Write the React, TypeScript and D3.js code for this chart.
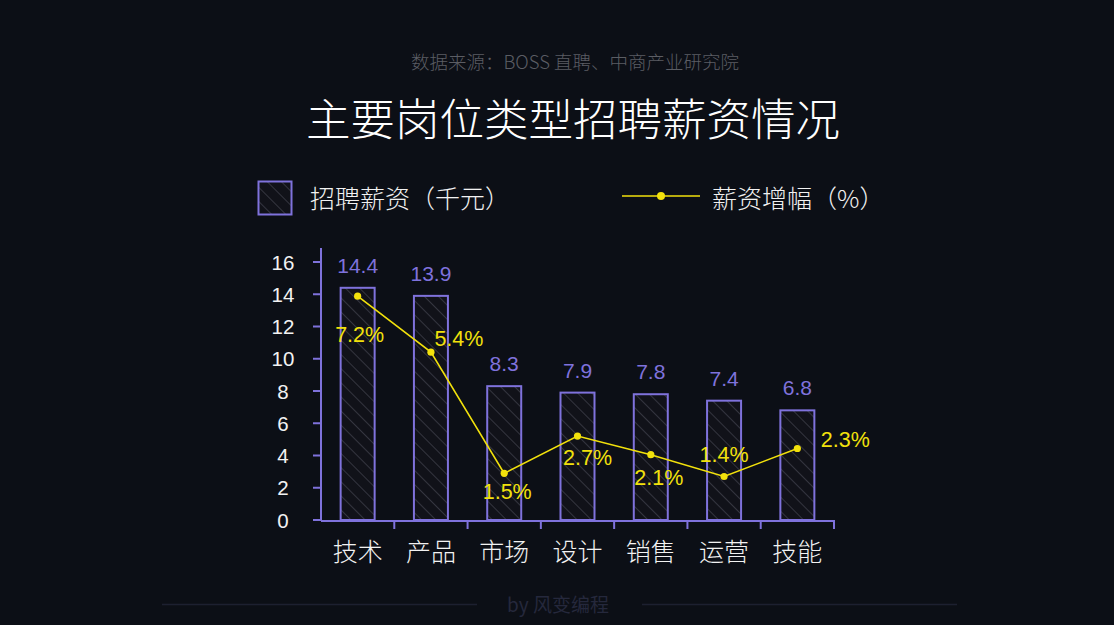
import React from 'react';
import * as d3 from 'd3';

// data
const categories = ['技术', '产品', '市场', '设计', '销售', '运营', '技能'];
const salary = [14.4, 13.9, 8.3, 7.9, 7.8, 7.4, 6.8]; // 千元
const growth = [7.2, 5.4, 1.5, 2.7, 2.1, 1.4, 2.3]; // %
const yTicks = [0, 2, 4, 6, 8, 10, 12, 14, 16];

// where each % label sits relative to its point
const growthLabelOffset: [number, number][] = [
  [2, 46], [28, -6], [3, 26], [10, 29], [8, 30], [0, -14], [48, -2],
];

const W = 1114;
const H = 625;
const BG = '#0c0f16';
const PURPLE = '#7f72dc';
const YELLOW = '#f2e10c';
const FONT = '"Noto Sans CJK SC", "Noto Sans", sans-serif';
const NUM_FONT = '"Liberation Sans", Arial, sans-serif';

const App: React.FC = () => {
  const left = 321;
  const right = 834;
  const base = 520;
  const top = 262;

  const x = d3.scaleBand<string>().domain(categories).range([left, right]);
  const y = d3.scaleLinear().domain([0, 16]).range([base, top]);
  const yPct = d3.scaleLinear().domain([0, 8.3]).range([base, top]);

  const cx = (c: string) => x(c)! + x.bandwidth() / 2;
  const barW = 34;

  const pts = growth.map((g, i) => [cx(categories[i]), yPct(g)] as [number, number]);
  const line = d3.line()(pts) || undefined;

  return (
    <svg width={W} height={H} style={{ position: 'absolute', left: 0, top: 0, display: 'block' }} fontFamily={FONT}>
      <defs>
        <pattern id="hatch" patternUnits="userSpaceOnUse" width="10" height="10" patternTransform="rotate(-45)">
          <rect width="10" height="10" fill="#111219" />
          <line x1="0" y1="0" x2="0" y2="10" stroke="#3d3d48" strokeWidth="1.6" />
        </pattern>
      </defs>
      <rect width={W} height={H} fill={BG} />

      {/* header */}
      <text x={575} y={69} textAnchor="middle" fill="#5b5d64" fontSize={18.5} fontWeight={300}>数据来源：BOSS 直聘、中商产业研究院</text>
      <text x={573} y={136} textAnchor="middle" fill="#ffffff" fontSize={44.5} fontWeight={300}>主要岗位类型招聘薪资情况</text>

      {/* legend */}
      <rect x={258.5} y={181.5} width={33} height={33} fill="url(#hatch)" stroke={PURPLE} strokeWidth={2} />
      <text x={310} y={208} fill="#f2f2f2" fontSize={25} fontWeight={300}>招聘薪资（千元）</text>
      <line x1={622} x2={700} y1={196} y2={196} stroke={YELLOW} strokeWidth={1.5} />
      <circle cx={661} cy={196} r={4} fill={YELLOW} />
      <text x={712} y={208} fill="#f2f2f2" fontSize={25} fontWeight={300}>薪资增幅（%）</text>

      {/* y axis */}
      <line x1={left} x2={left} y1={248} y2={base + 1} stroke={PURPLE} strokeWidth={2} />
      {yTicks.map((t) => (
        <g key={t}>
          <line x1={left - 8} x2={left} y1={y(t)} y2={y(t)} stroke={PURPLE} strokeWidth={2} />
          <text x={283} y={y(t) + 7.5} textAnchor="middle" fill="#f2f2f2" fontSize={20.5} fontFamily={NUM_FONT}>{t}</text>
        </g>
      ))}

      {/* bars */}
      {salary.map((v, i) => (
        <g key={categories[i]}>
          <rect
            x={cx(categories[i]) - barW / 2}
            y={y(v)}
            width={barW}
            height={base - y(v)}
            fill="url(#hatch)"
            stroke={PURPLE}
            strokeWidth={2}
          />
          <text x={cx(categories[i])} y={y(v) - 15} textAnchor="middle" fill={PURPLE} fontSize={21} fontFamily={NUM_FONT}>{v}</text>
        </g>
      ))}

      {/* x axis */}
      <line x1={left} x2={right + 1} y1={base + 1} y2={base + 1} stroke={PURPLE} strokeWidth={2} />
      {categories.map((c) => (
        <g key={c}>
          <line x1={x(c)! + x.step()} x2={x(c)! + x.step()} y1={base + 1} y2={base + 9} stroke={PURPLE} strokeWidth={2} />
          <text x={cx(c)} y={561} textAnchor="middle" fill="#f2f2f2" fontSize={25} fontWeight={300}>{c}</text>
        </g>
      ))}

      {/* growth line */}
      <path d={line} fill="none" stroke={YELLOW} strokeWidth={1.6} />
      {pts.map(([px, py], i) => (
        <g key={i}>
          <circle cx={px} cy={py} r={3.6} fill={YELLOW} />
          <text
            x={px + growthLabelOffset[i][0]}
            y={py + growthLabelOffset[i][1]}
            textAnchor="middle"
            fill={YELLOW}
            fontSize={21.5}
            fontFamily={NUM_FONT}
          >{growth[i]}%</text>
        </g>
      ))}

      {/* footer */}
      <line x1={162} x2={477} y1={604.5} y2={604.5} stroke="#1d2030" strokeWidth={1.5} />
      <line x1={642} x2={957} y1={604.5} y2={604.5} stroke="#1d2030" strokeWidth={1.5} />
      <text x={558} y={612} textAnchor="middle" fill="#25283c" fontSize={19}>by 风变编程</text>
    </svg>
  );
};

export default App;
